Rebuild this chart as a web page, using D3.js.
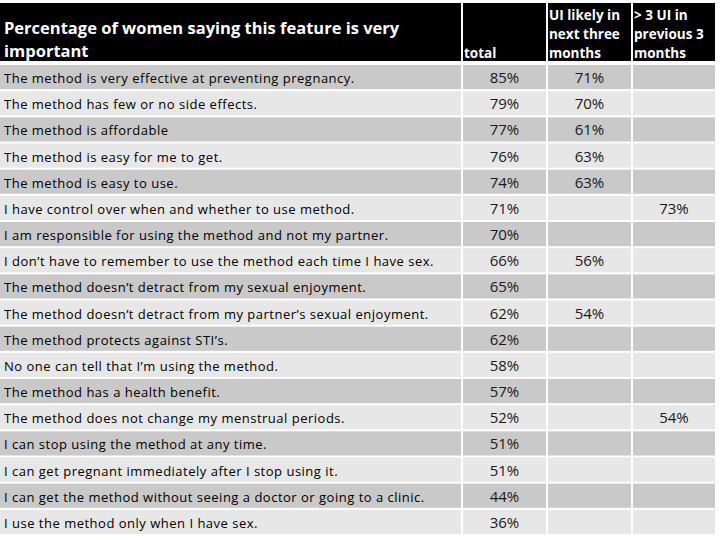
<!DOCTYPE html>
<html>
<head>
<meta charset="utf-8">
<script src="https://cdn.jsdelivr.net/npm/d3@7"></script>
<style>
  body { margin: 0; background: #fff; }
  text { font-family: "Open Sans", "Noto Sans", sans-serif; }
</style>
</head>
<body>
<div id="chart"></div>
<script>
// Table data
var features = [
    'The method is very effective at preventing pregnancy.',
    'The method has few or no side effects.',
    'The method is affordable',
    'The method is easy for me to get.',
    'The method is easy to use.',
    'I have control over when and whether to use method.',
    'I am responsible for using the method and not my partner.',
    'I don\u2019t have to remember to use the method each time I have sex.',
    'The method doesn\u2019t detract from my sexual enjoyment.',
    'The method doesn\u2019t detract from my partner\u2019s sexual enjoyment.',
    'The method protects against STI\u2019s.',
    'No one can tell that I\u2019m using the method.',
    'The method has a health benefit.',
    'The method does not change my menstrual periods.',
    'I can stop using the method at any time.',
    'I can get pregnant immediately after I stop using it.',
    'I can get the method without seeing a doctor or going to a clinic.',
    'I use the method only when I have sex.'
];

var totalValues  = [85, 79, 77, 76, 74, 71, 70, 66, 65, 62, 62, 58, 57, 52, 51, 51, 44, 36];
var likelyValues = [71, 70, 61, 63, 63, null, null, 56, null, 54, null, null, null, null, null, null, null, null];
var prevValues   = [null, null, null, null, null, 73, null, null, null, null, null, null, null, 54, null, null, null, null];

var headerTitle = ['Percentage of women saying this feature is very', 'important'];
var columnHeads = [ ['total'], ['UI likely in', 'next three', 'months'], ['> 3 UI in', 'previous 3', 'months'] ];

var width  = 720;
var height = 540;

var svg = d3.select('#chart')
            .append('svg')
            .attr('width', width)
            .attr('height', height);

// Column edges (label column + 3 value columns)
var colX = [0, 463, 548, 633];
var colW = [461, 83, 83, 82];

var headTop = 3, headBottom = 61;

// Rows as a band scale
var yScale = d3.scaleBand()
               .domain(d3.range(features.length))
               .range([65, 534])
               .paddingInner(2 / 26)
               .paddingOuter(0);

var rowFill = ['#c9c9c9', '#e7e7e7'];

// Header cells
colX.forEach(function (x, i) {
    svg.append('rect')
       .attr('x', x)
       .attr('y', headTop)
       .attr('width', colW[i])
       .attr('height', headBottom - headTop)
       .attr('fill', '#000');
});

svg.append('g')
   .selectAll('text')
   .data(headerTitle)
   .join('text')
   .attr('x', 4)
   .attr('y', function (d, i) { return 34 + i * 23; })
   .attr('fill', '#fff')
   .attr('font-weight', 'bold')
   .attr('font-size', '16.5px')
   .text(function (d) { return d; });

columnHeads.forEach(function (lines, c) {
    svg.append('g')
       .selectAll('text')
       .data(lines)
       .join('text')
       .attr('x', colX[c + 1] + 1)
       .attr('y', function (d, i) { return 58 - (lines.length - 1 - i) * 19; })
       .attr('fill', '#fff')
       .attr('font-weight', 'bold')
       .attr('font-size', '13.5px')
       .text(function (d) { return d; });
});

// Body rows
var rows = svg.append('g')
              .selectAll('g.row')
              .data(features)
              .join('g')
              .attr('class', 'row')
              .attr('transform', function (d, i) { return 'translate(0,' + yScale(i) + ')'; });

colX.forEach(function (x, c) {
    rows.append('rect')
        .attr('x', x)
        .attr('y', 0)
        .attr('width', colW[c])
        .attr('height', yScale.bandwidth())
        .attr('fill', function (d, i) { return rowFill[i % 2]; });
});

var mid = yScale.bandwidth() / 2;

rows.append('text')
    .attr('x', 4)
    .attr('y', mid + 6)
    .attr('font-size', '13px')
    .attr('letter-spacing', '0.5px')
    .attr('fill', '#000')
    .text(function (d) { return d; });

var valueCols = [totalValues, likelyValues, prevValues];

valueCols.forEach(function (vals, c) {
    rows.append('text')
        .attr('x', colX[c + 1] + colW[c + 1] / 2)
        .attr('y', mid + 6)
        .attr('text-anchor', 'middle')
        .attr('font-size', '15px')
        .attr('fill', '#1a1a1a')
        .text(function (d, i) { return vals[i] == null ? '' : vals[i] + '%'; });
});
</script>
</body>
</html>
